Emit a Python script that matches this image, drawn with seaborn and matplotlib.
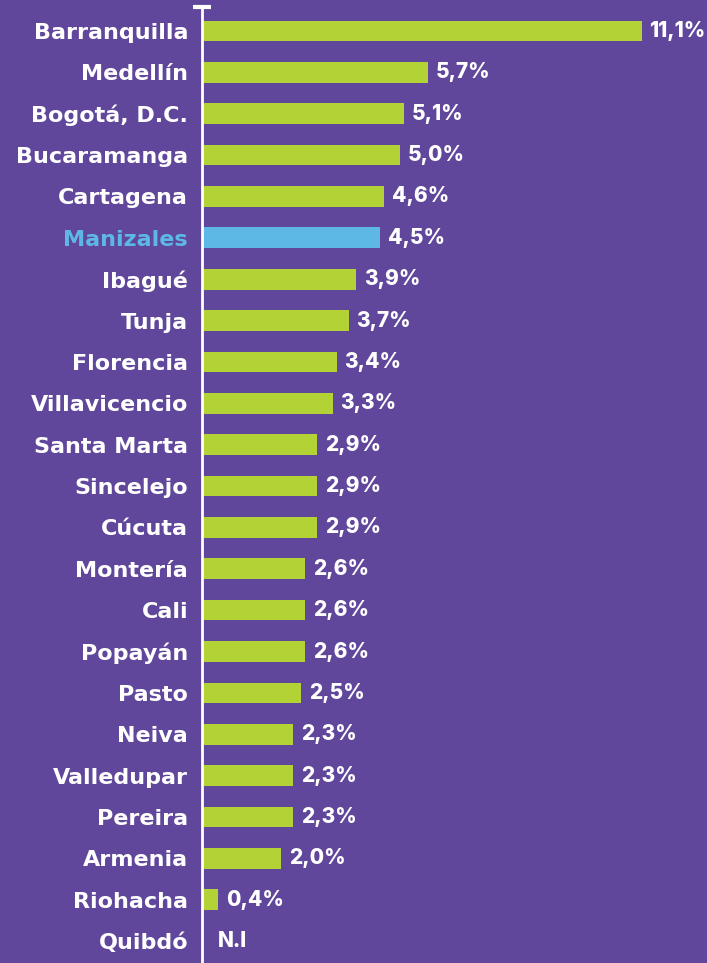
import numpy as np
import pandas as pd
import matplotlib
matplotlib.use("Agg")
import matplotlib.pyplot as plt
import seaborn as sns

cities = ["Barranquilla", "Medellín", "Bogotá, D.C.", "Bucaramanga", "Cartagena",
          "Manizales", "Ibagué", "Tunja", "Florencia", "Villavicencio", "Santa Marta",
          "Sincelejo", "Cúcuta", "Montería", "Cali", "Popayán", "Pasto", "Neiva",
          "Valledupar", "Pereira", "Armenia", "Riohacha", "Quibdó"]
values = [11.1, 5.7, 5.1, 5.0, 4.6, 4.5, 3.9, 3.7, 3.4, 3.3, 2.9, 2.9, 2.9,
          2.6, 2.6, 2.6, 2.5, 2.3, 2.3, 2.3, 2.0, 0.4, np.nan]
highlight_city = "Manizales"
missing_label = "N.I"

BG = "#60479b"
GREEN = "#b3d235"
BLUE = "#5db8e6"
WHITE = "#ffffff"
NAME_FS = 16
VAL_FS = 15

df = pd.DataFrame({"city": cities, "value": values})
df["group"] = np.where(df["city"] == highlight_city, "hl", "base")

sns.set_theme(style="white")
plt.rcParams["font.family"] = ["DejaVu Sans"]

fig = plt.figure(figsize=(7.07, 9.63), dpi=100, facecolor=BG)
W, H = 707, 963
ax = fig.add_axes([202 / W, 0, (W - 202) / W, (963 - 7) / H])
ax.set_facecolor(BG)

sns.barplot(data=df, x="value", y="city", hue="group", order=cities,
            palette={"base": GREEN, "hl": BLUE}, dodge=False, legend=False,
            width=0.5, saturation=1, linewidth=0, ax=ax, orient="h")

ax.set_xlim(0, (W - 202) / 39.6)
ax.set_ylim(len(cities) - 1 + 0.53, -0.58)
for s in ["top", "right", "bottom"]:
    ax.spines[s].set_visible(False)
ax.spines["left"].set_color(WHITE)
ax.spines["left"].set_linewidth(2)
ax.set_xticks([])
ax.set_xlabel("")
ax.set_ylabel("")
ax.tick_params(axis="y", length=0, pad=10)
for lbl in ax.get_yticklabels():
    lbl.set_fontsize(NAME_FS)
    lbl.set_fontweight("bold")
    lbl.set_color(BLUE if lbl.get_text() == highlight_city else WHITE)

# small cap at the top of the axis line
ax.plot([-0.22, 0.22], [-0.58, -0.58], color=WHITE, lw=3, clip_on=False,
        solid_capstyle="butt", zorder=5)

val_font = dict(family=["Inter", "DejaVu Sans"], fontsize=VAL_FS, fontweight="heavy",
                color=WHITE, va="center", ha="left")
for i, v in enumerate(values):
    if np.isnan(v):
        ax.text(0.4, i, missing_label, **val_font)
    else:
        ax.text(v + 0.2, i, f"{v:.1f}".replace(".", ",") + "%", **val_font)

fig.savefig("out.png", dpi=100, facecolor=BG)
